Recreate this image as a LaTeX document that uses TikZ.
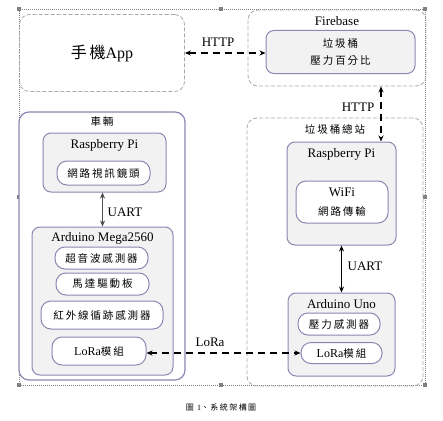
\documentclass[tikz,border=0pt]{standalone}
\usepackage{fontspec}
\setmainfont{Liberation Serif}
\newfontfamily\cjk[LetterSpace=18]{Noto Sans CJK TC}
\usetikzlibrary{arrows.meta}

\newlength{\du}
\setlength{\du}{1pt}

\definecolor{framecolor}{rgb}{0.550000, 0.530000, 0.700000}
\definecolor{boardcolor}{rgb}{0.949000, 0.949000, 0.949000}
\definecolor{dashcolor}{rgb}{0.660000, 0.660000, 0.710000}
\definecolor{handlecolor}{rgb}{0.500000, 0.500000, 0.500000}
\definecolor{wirecolor}{rgb}{0.300000, 0.300000, 0.300000}

\tikzset{
  sized/.style 2 args={minimum width=#1\du, minimum height=#2\du, inner sep=0pt},
  wrapdash/.style={draw=dashcolor, line width=0.8\du, dash pattern=on 4\du off 2\du, rounded corners=10\du},
  wrapsolid/.style={draw=framecolor, line width=1.2\du, fill=white, rounded corners=10\du},
  board/.style={draw=framecolor, line width=1\du, fill=boardcolor, rounded corners=8\du},
  pill/.style={draw=framecolor, line width=1\du, fill=white, rounded corners=10\du,
    font=\fontsize{10.5}{13}\selectfont\cjk},
  lbl/.style={inner sep=0pt, font=\fontsize{13}{15}\selectfont},
  zh/.style={inner sep=0pt, font=\fontsize{10.5}{13}\selectfont\cjk},
  link/.style={line width=1.4\du, dash pattern=on 7\du off 5\du, {Stealth[length=6pt, width=5pt]}-{Stealth[length=6pt, width=5pt]}},
  wire/.style={line width=1.2\du, {Stealth[length=6pt, width=5pt]}-{Stealth[length=6pt, width=5pt]}}
}

\begin{document}
\begin{tikzpicture}
\pgftransformxscale{1.000000}
\pgftransformyscale{-1.000000}
\useasboundingbox (0.000000\du,0.000000\du) rectangle (443.000000\du,420.000000\du);
% canvas frame
\draw[handlecolor, line width=0.6\du, dash pattern=on 1\du off 1\du] (19.000000\du,9.000000\du) rectangle (425.000000\du,385.000000\du);
\foreach \hx/\hy in {19/9,221/9,425/9,19/197,425/197,19/385,221/385,425/385}
  \fill[handlecolor] ([shift={(-2\du,-2\du)}]\hx\du,\hy\du) rectangle +(4\du,4\du);
% phone
\node[wrapdash, sized={165}{77}, font=\fontsize{16}{18}\selectfont] (app) at (102.000000\du,53.000000\du){{\cjk 手機}App};
% firebase
\node[wrapdash, sized={178}{76}] (fbwrap) at (337.000000\du,48.000000\du){};
% setfont left to latex
\node[lbl] (fbtitle) at (337.000000\du,21.000000\du){Firebase};
\node[board, sized={149}{43}, align=center, font=\fontsize{10.5}{17}\selectfont\cjk] (fb) at (340.500000\du,52.000000\du){垃圾桶\\壓力百分比};
% car
\node[wrapsolid, sized={166}{268}] (car) at (102.000000\du,246.000000\du){};
\node[zh] (cartitle) at (102.000000\du,122.000000\du){車輛};
\node[board, sized={123}{59}] (carpi) at (104.500000\du,162.500000\du){};
% setfont left to latex
\node[lbl] (carpititle) at (104.500000\du,145.000000\du){Raspberry Pi};
\node[pill, sized={93}{24}] (cam) at (103.500000\du,173.000000\du){網路視訊鏡頭};
\node[board, sized={141}{148}] (mega) at (102.500000\du,301.000000\du){};
% setfont left to latex
\node[lbl] (megatitle) at (102.500000\du,238.000000\du){Arduino Mega2560};
\node[pill, sized={93}{22}] (sonar) at (101.500000\du,258.000000\du){超音波感測器};
\node[pill, sized={93}{22}] (motor) at (102.500000\du,284.000000\du){馬達驅動板};
\node[pill, sized={122}{28}] (ir) at (102.000000\du,315.000000\du){紅外線循跡感測器};
\node[pill, sized={94}{28}] (loraA) at (99.000000\du,351.000000\du){{\rmfamily\fontsize{12}{14}\selectfont LoRa}模組};
% station
\node[wrapdash, sized={176}{268}] (station) at (335.000000\du,252.000000\du){};
\node[zh] (sttitle) at (335.000000\du,129.000000\du){垃圾桶總站};
\node[board, sized={109}{103}] (stpi) at (341.500000\du,193.500000\du){};
% setfont left to latex
\node[lbl] (stpititle) at (341.500000\du,154.000000\du){Raspberry Pi};
\node[pill, sized={92}{42}, align=center, font=\fontsize{10.5}{19}\selectfont\cjk] (wifi) at (342.000000\du,202.000000\du){{\rmfamily\fontsize{13}{15}\selectfont WiFi}\\網路傳輸};
\node[board, sized={107}{83}] (uno) at (341.500000\du,334.500000\du){};
% setfont left to latex
\node[lbl] (unotitle) at (341.500000\du,304.000000\du){Arduino Uno};
\node[pill, sized={82}{22}] (press) at (339.000000\du,324.000000\du){壓力感測器};
\node[pill, sized={81}{21}] (loraB) at (341.500000\du,353.000000\du){{\rmfamily\fontsize{12}{14}\selectfont LoRa}模組};
% connectors
\coordinate (httpx) at (381.000000\du,100.000000\du);
\draw[link] (app.east) -- (app.east -| fb.west);
\draw[link] (fbwrap.south -| httpx) -- (stpi.north -| httpx);
\draw[wire, wirecolor, line width=1.8\du] (mega.north |- carpi.south) -- (mega.north);
\draw[wire] (stpi.south) -- (uno.north);
\draw[link] (loraA.east |- loraB.west) -- (loraB.west);
% setfont left to latex
\node[lbl] (httpA) at (218.000000\du,42.000000\du){HTTP};
\node[lbl] (httpB) at (358.000000\du,107.000000\du){HTTP};
\node[lbl] (uartA) at (125.000000\du,212.000000\du){UART};
\node[lbl] (uartB) at (365.000000\du,266.000000\du){UART};
\node[lbl] (lora) at (210.000000\du,342.000000\du){LoRa};
\node[inner sep=0pt, font=\fontsize{8}{10}\selectfont\cjk] (caption) at (221.000000\du,407.000000\du){圖 {\rmfamily 1}、系統架構圖};
\end{tikzpicture}
\end{document}
